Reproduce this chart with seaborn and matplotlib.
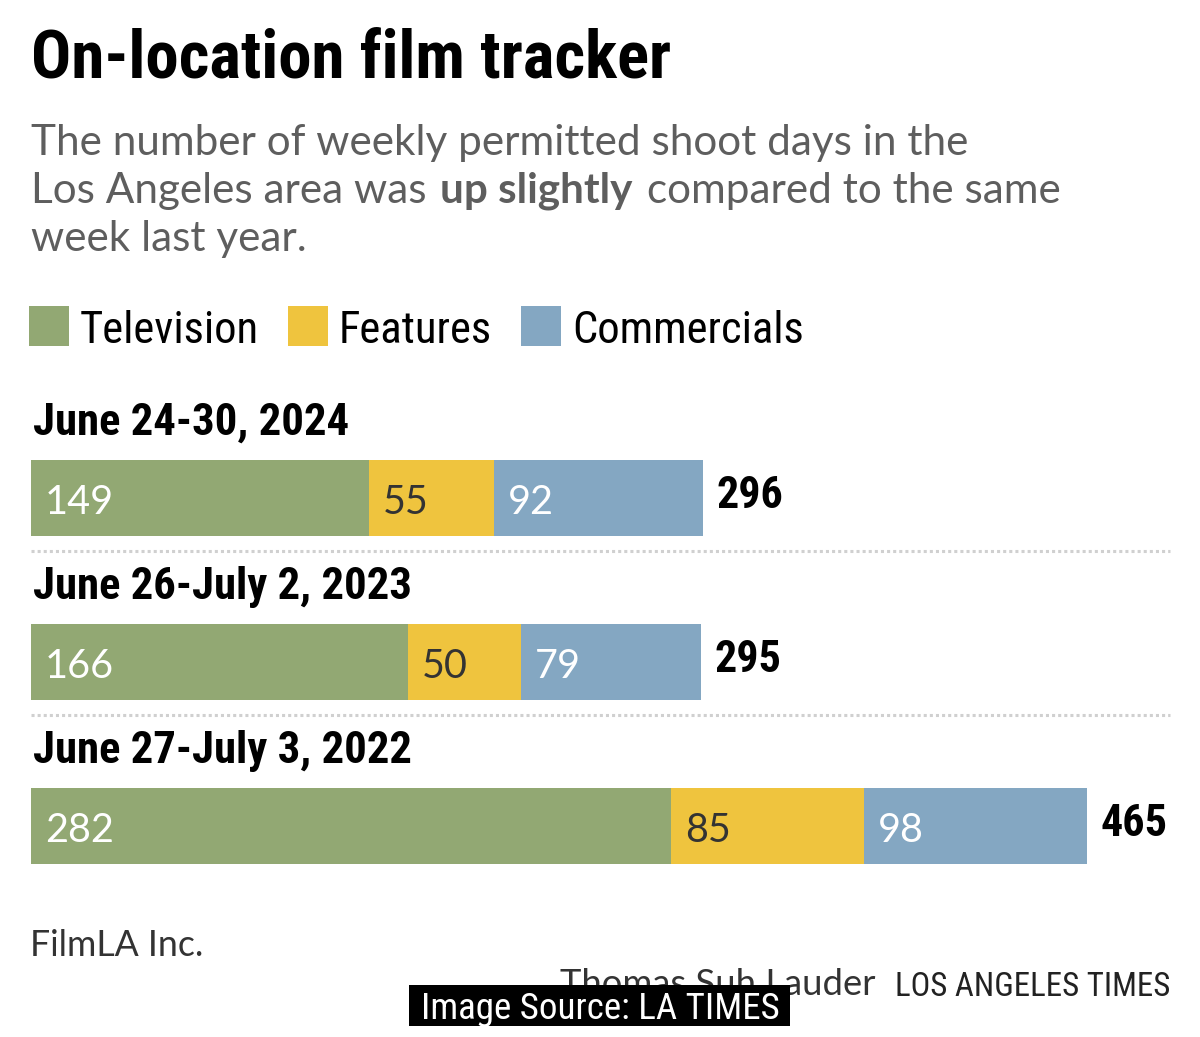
import matplotlib
matplotlib.use('Agg')
import matplotlib.pyplot as plt
import seaborn as sns
import pandas as pd
from matplotlib.patches import Rectangle

weeks = ['June 24-30, 2024', 'June 26-July 2, 2023', 'June 27-July 3, 2022']
television = [149, 166, 282]
features = [55, 50, 85]
commercials = [92, 79, 98]
series = ['Television', 'Features', 'Commercials']
colors = ['#92a873', '#efc43e', '#84a7c2']
label_colors = ['white', '#333333', 'white']

sns.set_theme(style='white')
NARROW = ['Roboto Condensed', 'Liberation Sans', 'DejaVu Sans']
LIGHT = ['Lato', 'DejaVu Sans']
plt.rcParams['font.family'] = NARROW

df = pd.DataFrame({'week': weeks, 'Television': television,
                   'Features': features, 'Commercials': commercials})
df['tv_end'] = df['Television']
df['feat_end'] = df['Television'] + df['Features']
df['total'] = df['feat_end'] + df['Commercials']

W, H = 1200, 1037
fig = plt.figure(figsize=(W / 100, H / 100), dpi=100)
fig.patch.set_facecolor('white')
renderer = fig.canvas.get_renderer()


def fit(t, target):
    # scale a text so that it spans the same width as in the reference
    w = t.get_window_extent(renderer).width
    t.set_fontsize(t.get_fontsize() * target / w)
    return t.get_fontsize()


def ftext(x, y, s, **kw):
    # place text by pixel position measured from the top-left corner
    return fig.text(x / W, 1 - y / H, s, va='baseline', **kw)


ax = fig.add_axes([31 / W, 1 - 908 / H, 1139 / W, 492 / H])

# stacked bars: draw cumulative totals back to front
for col, color in [('total', colors[2]), ('feat_end', colors[1]), ('tv_end', colors[0])]:
    sns.barplot(data=df, x=col, y='week', color=color, width=0.463, saturation=1,
                errorbar=None, linewidth=0, ax=ax)

ax.set_xlim(0, 1139 / 2.27)
ax.set_ylim(2.5, -0.5)
ax.axis('off')

starts = [[0] * 3, list(df['tv_end']), list(df['feat_end'])]
values = [television, features, commercials]
for s in range(3):
    for i in range(len(weeks)):
        t = ax.annotate(str(values[s][i]), (starts[s][i], i), xytext=(10, -11.5),
                        textcoords='offset points', va='baseline', ha='left',
                        fontsize=25, color=label_colors[s], family=LIGHT)
        if s == 0 and i == 0:
            val_size = fit(t, 69)
        else:
            t.set_fontsize(val_size)

label_size = None
total_size = None
for i, w in enumerate(weeks):
    t = ax.annotate(str(df['total'][i]), (df['total'][i], i), xytext=(10, -7.2),
                    textcoords='offset points', va='baseline', ha='left',
                    fontsize=27, color='black', weight='bold')
    if total_size is None:
        total_size = fit(t, 67)
    t.set_fontsize(total_size)
    t = ax.annotate(w, (0, i), xytext=(1.4, 45.4), textcoords='offset points',
                    va='baseline', ha='left', fontsize=28, weight='bold', color='black')
    if label_size is None:
        label_size = fit(t, 316)
    t.set_fontsize(label_size)
    if i < len(weeks) - 1:
        ax.axhline(i + 0.323, color='#d0d0d0', lw=2.2, ls=(0, (1, 1)), clip_on=False)

# title and subtitle
t = ftext(31, 77, 'On-location film tracker', fontsize=43, weight='bold', color='black')
fit(t, 641)

sub_color = '#5e5e5e'
t = ftext(31, 155, 'The number of weekly permitted shoot days in the',
          fontsize=29, family=LIGHT, color=sub_color)
sub_size = fit(t, 936)
ftext(31, 251, 'week last year.', fontsize=sub_size, family=LIGHT, color=sub_color)

gap = sub_size * 100 / 72 * 0.33
x = 31
for part, wt in [('Los Angeles area was', 'normal'), ('up slightly', 'bold'),
                 ('compared to the same', 'normal')]:
    t = ftext(x, 203, part, fontsize=sub_size, family=LIGHT, weight=wt, color=sub_color)
    x = t.get_window_extent(renderer).x1 + gap

# legend
x = 29
leg_size = None
for name, color in zip(series, colors):
    fig.add_artist(Rectangle((x / W, 1 - 346 / H), 40 / W, 40 / H, transform=fig.transFigure,
                             facecolor=color, edgecolor='none'))
    t = ftext(x + 51, 343, name, fontsize=28, color='black', ha='left')
    if leg_size is None:
        leg_size = fit(t, 179)
    t.set_fontsize(leg_size)
    x = t.get_window_extent(renderer).x1 + 29

# footer
t = ftext(30, 956, 'FilmLA Inc.', fontsize=24, family=LIGHT, color='#333333')
fit(t, 173)
t = ftext(1170, 996, 'LOS ANGELES TIMES', fontsize=20, color='#222222', ha='right')
fit(t, 275)
t = ftext(875, 995, 'Thomas Suh Lauder', fontsize=24, family=LIGHT, color='#333333',
          ha='right')
fit(t, 315)

fig.add_artist(Rectangle((409 / W, 1 - 1026 / H), 381 / W, 41 / H, transform=fig.transFigure,
                         facecolor='black', edgecolor='none', zorder=5))
t = ftext(600, 1019, 'Image Source: LA TIMES', fontsize=23, color='white', ha='center',
          zorder=6)
fit(t, 360)

fig.savefig('out.png', dpi=100, facecolor='white')
